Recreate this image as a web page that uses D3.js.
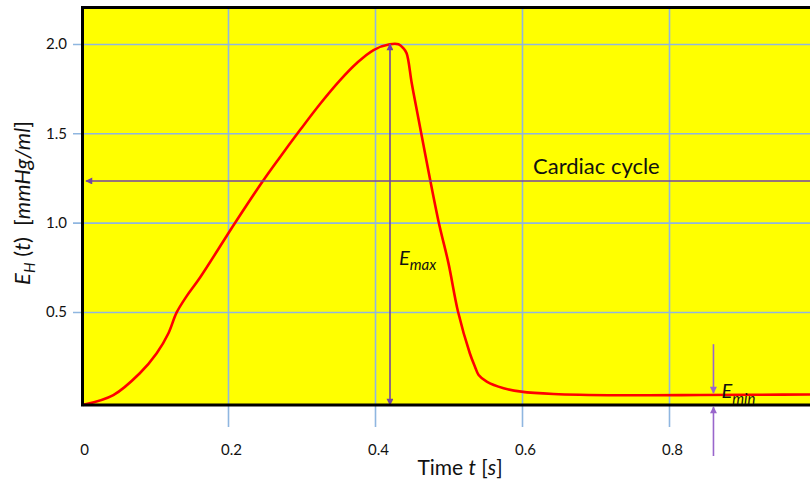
<!DOCTYPE html>
<html>
<head>
<meta charset="utf-8">
<script src="https://cdn.jsdelivr.net/npm/d3@7"></script>
<style>
  html, body { margin: 0; padding: 0; background: #fff; }
  svg { display: block; }
  text { font-family: Lato, "Open Sans", sans-serif; fill: #111; white-space: pre; }
</style>
</head>
<body>
<svg id="chart" width="810" height="483"></svg>
<script>
// ---- data ----
const timeS = [0.003, 0.044, 0.080, 0.103, 0.119, 0.130, 0.144, 0.162, 0.2095, 0.247, 0.268, 0.298, 0.3252, 0.352, 0.375, 0.398, 0.420, 0.432, 0.4385, 0.443, 0.450, 0.459, 0.486, 0.500, 0.513, 0.529, 0.536, 0.541, 0.552, 0.575, 0.599, 0.643, 0.733, 0.843, 0.924, 0.999];
const elastance = [-0.02, 0.035, 0.157, 0.269, 0.381, 0.496, 0.590, 0.693, 0.998, 1.230, 1.351, 1.518, 1.664, 1.795, 1.892, 1.966, 1.998, 1.998, 1.976, 1.948, 1.780, 1.584, 1.015, 0.772, 0.501, 0.269, 0.194, 0.147, 0.110, 0.073, 0.054, 0.041, 0.034, 0.035, 0.037, 0.038];
const xTickValues = [0, 0.2, 0.4, 0.6, 0.8];
const xTickLabels = ["0", "0.2", "0.4", "0.6", "0.8"];
const yTickValues = [0.5, 1.0, 1.5, 2.0];
const yTickLabels = ["0.5", "1.0", "1.5", "2.0"];
const eMax = 2.0, tEmax = 0.4204;
const eMin = 0.040, tEmin = 0.8605;
const cycleLevel = 1.233, cycleStart = 0.004, cycleEnd = 1.0;
const cycleLabel = "Cardiac cycle";

// ---- layout ----
const W = 810, H = 483;
const plotLeft = 82.5, plotTop = 7.5, plotBottom = 405;
const svg = d3.select("#chart");

const x = d3.scaleLinear().domain([0, 1]).range([81, 816]);
const y = d3.scaleLinear().domain([-0.0207, 2.204]).range([plotBottom, plotTop]);

// yellow plot area
svg.append("rect")
  .attr("x", plotLeft).attr("y", plotTop)
  .attr("width", W - plotLeft + 10).attr("height", plotBottom - plotTop)
  .attr("fill", "#ffff00");

const gridColor = "#8fb6e0";

// y axis with grid lines (extend a little left of the frame)
const yAxisG = svg.append("g").attr("transform", "translate(73,0)")
  .call(d3.axisLeft(y).tickValues(yTickValues)
    .tickFormat((d, i) => yTickLabels[i])
    .tickSize(-(W - 73 + 10)).tickPadding(6));
yAxisG.select(".domain").remove();
yAxisG.selectAll(".tick line").attr("stroke", gridColor).attr("stroke-width", 1.6);
yAxisG.selectAll(".tick text").attr("font-size", 15).attr("fill", "#111")
  .style("font-family", "Lato, sans-serif");

// x axis with grid lines (extend below the frame)
const xAxisY = 427;
const xAxisG = svg.append("g").attr("transform", `translate(0,${xAxisY})`)
  .call(d3.axisBottom(x).tickValues(xTickValues)
    .tickFormat((d, i) => xTickLabels[i])
    .tickSize(-(xAxisY - plotTop - 1)).tickPadding(17));
xAxisG.select(".domain").remove();
xAxisG.selectAll(".tick line").attr("stroke", gridColor).attr("stroke-width", 1.6)
  .filter(d => d === 0).remove();
xAxisG.selectAll(".tick text").attr("font-size", 15).attr("fill", "#111")
  .attr("dx", 3)
  .style("font-family", "Lato, sans-serif");

// arrow markers
const defs = svg.append("defs");
function marker(id, color) {
  defs.append("marker").attr("id", id)
    .attr("viewBox", "0 0 10 10").attr("refX", 9).attr("refY", 5)
    .attr("markerUnits", "userSpaceOnUse")
    .attr("markerWidth", 8).attr("markerHeight", 7)
    .attr("orient", "auto-start-reverse")
    .append("path").attr("d", "M0,0 L10,5 L0,10 z").attr("fill", color);
}
const arrowColor = "#7446a0";
const arrowColor2 = "#9966cc";
marker("arr", arrowColor);
marker("arr2", arrowColor2);

// curve
const pts = timeS.map((t, i) => [t, elastance[i]]);
const line = d3.line().x(d => x(d[0])).y(d => y(d[1])).curve(d3.curveCatmullRom.alpha(0.5));
svg.append("path").datum(pts)
  .attr("d", line).attr("fill", "none")
  .attr("stroke", "#ff0000").attr("stroke-width", 2.6)
  .attr("stroke-linejoin", "round");

// cardiac cycle arrow
svg.append("line")
  .attr("x1", x(cycleStart) + 2).attr("x2", x(cycleEnd))
  .attr("y1", y(cycleLevel)).attr("y2", y(cycleLevel))
  .attr("stroke", arrowColor).attr("stroke-width", 1.4)
  .attr("marker-start", "url(#arr)");

// Emax arrow
svg.append("line")
  .attr("x1", x(tEmax)).attr("x2", x(tEmax))
  .attr("y1", y(eMax)).attr("y2", plotBottom)
  .attr("stroke", arrowColor).attr("stroke-width", 1.6)
  .attr("marker-start", "url(#arr)").attr("marker-end", "url(#arr)");

// Emin arrows
svg.append("line")
  .attr("x1", x(tEmin)).attr("x2", x(tEmin))
  .attr("y1", y(eMin) - 50).attr("y2", y(eMin) - 1)
  .attr("stroke", arrowColor2).attr("stroke-width", 1.6)
  .attr("marker-end", "url(#arr2)");
svg.append("line")
  .attr("x1", x(tEmin)).attr("x2", x(tEmin))
  .attr("y1", plotBottom + 51).attr("y2", plotBottom + 2)
  .attr("stroke", arrowColor2).attr("stroke-width", 1.6)
  .attr("marker-end", "url(#arr2)");

// frame (left, top, bottom borders)
svg.append("path")
  .attr("d", `M${W + 5},${plotTop} H${plotLeft} V${plotBottom} H${W + 5}`)
  .attr("fill", "none").attr("stroke", "#000").attr("stroke-width", 3);

// labels
svg.append("text").attr("x", 533).attr("y", y(cycleLevel) - 7)
  .attr("font-size", 22).text(cycleLabel);

const emaxT = svg.append("text").attr("x", x(tEmax) + 9).attr("y", 265).attr("font-size", 20);
emaxT.append("tspan").attr("font-style", "italic").text("E");
emaxT.append("tspan").attr("font-style", "italic").attr("font-size", 15).attr("dy", 5).text("max");

const eminT = svg.append("text").attr("x", x(tEmin) + 8).attr("y", 398).attr("font-size", 20);
eminT.append("tspan").attr("font-style", "italic").text("E");
eminT.append("tspan").attr("font-style", "italic").attr("font-size", 15).attr("dy", 6).text("min");

// x title
const xt = svg.append("text").attr("x", 460).attr("y", 475)
  .attr("text-anchor", "middle").attr("font-size", 21);
xt.append("tspan").text("Time ");
xt.append("tspan").attr("font-style", "italic").text("t");
xt.append("tspan").text(" [");
xt.append("tspan").attr("font-style", "italic").text("s");
xt.append("tspan").text("]");

// y title
const yt = svg.append("text").attr("transform", "translate(30,203) rotate(-90)")
  .attr("text-anchor", "middle").attr("font-size", 22);
yt.append("tspan").attr("font-style", "italic").text("E");
yt.append("tspan").attr("font-style", "italic").attr("font-size", 15).attr("dy", 5).text("H");
yt.append("tspan").attr("dy", -5).text(" (");
yt.append("tspan").attr("font-style", "italic").text("t");
yt.append("tspan").text(")  [");
yt.append("tspan").attr("font-style", "italic").text("mmHg/ml");
yt.append("tspan").text("]");
</script>
</body>
</html>
